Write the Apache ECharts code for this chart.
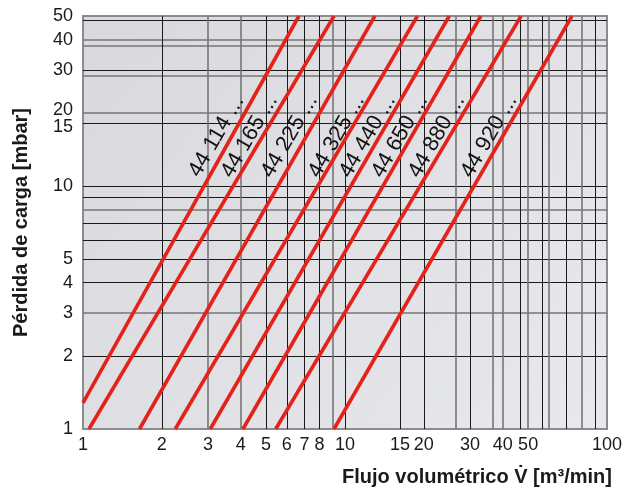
<!DOCTYPE html>
<html>
<head>
<meta charset="utf-8">
<script src="https://cdn.jsdelivr.net/npm/echarts@6/dist/echarts.min.js"></script>
<style>
html,body{margin:0;padding:0;background:#fff;}
#chart{width:629px;height:496px;}
</style>
</head>
<body>
<div id="chart"></div>
<script>
// Model names (one line each)
var models = ['44 114 ...', '44 165 ...', '44 225 ...', '44 325 ...', '44 440 ...', '44 650 ...', '44 880 ...', '44 920 ...'];
// Line start points (flow m3/min, pressure mbar)
var flowLow = [1, 1.054, 1.643, 2.25, 3.06, 4.08, 5.44, 9.08];
var pLow    = [1.28, 1, 1, 1, 1, 1, 1, 1];
// Line end points
var flowHigh = [6.67, 9.08, 13.0, 18.9, 25.0, 33.0, 47.0, 73.5];
var pHigh    = [50, 50, 50, 50, 50, 50, 50, 50];
// Label anchor positions (data space)
var labelFlow = [3.23, 4.32, 6.14, 9.29, 12.2, 16.2, 22.4, 35.5];
var labelP    = [16, 16, 16, 16, 16, 16, 16, 16];

// Axis tick labels
var xLabelVals = [1, 2, 3, 4, 5, 6, 7, 8, 10, 16.2, 20, 30, 40, 50, 100];
var xLabelText = ['1', '2', '3', '4', '5', '6', '7', '8', '10', '15', '20', '30', '40', '50', '100'];
var yLabelVals = [1, 2, 3, 4, 5, 10, 17.5, 20.5, 30, 40, 50];
var yLabelText = ['1', '2', '3', '4', '5', '10', '15', '20', '30', '40', '50'];

// Grid lines
var xGridDark = [2, 5, 6, 7, 8, 10, 16.2, 20, 30, 46.7, 56.5, 70, 90];
var xGridGray = [3, 4, 9, 26.5, 36.5, 40, 50, 60, 80];
var yGridDark = [2, 4, 5, 6, 7, 9, 10, 18.1, 30, 48.2];
var yGridGray = [3, 8, 20, 28.3, 37.7, 40];

function lookup(vals, texts, v) {
  var best = 0, bd = Infinity;
  for (var i = 0; i < vals.length; i++) {
    var d = Math.abs(Math.log(vals[i]) - Math.log(v));
    if (d < bd) { bd = d; best = i; }
  }
  return texts[best];
}

var FONT = 'Liberation Sans';
var chart = echarts.init(document.getElementById('chart'));

var series = models.map(function (m, i) {
  return {
    name: m,
    type: 'line',
    xAxisIndex: 0,
    yAxisIndex: 0,
    data: [[flowLow[i], pLow[i]], [flowHigh[i], pHigh[i]]],
    symbol: 'none',
    silent: true,
    z: 5,
    lineStyle: { color: '#e3231b', width: 3.6 },
    markPoint: {
      silent: true,
      symbol: 'circle',
      symbolSize: 0,
      itemStyle: { opacity: 1, color: 'transparent' },
      label: {
        show: true,
        position: 'inside',
        rotate: 60,
        formatter: m,
        fontFamily: FONT,
        fontSize: 22,
        color: '#141414'
      },
      data: [{ coord: [labelFlow[i], labelP[i]] }]
    }
  };
});

var option = {
  animation: false,
  backgroundColor: '#ffffff',
  grid: {
    left: 83, right: 22, top: 16, bottom: 67,
    show: true,
    borderColor: '#8c8c8c',
    borderWidth: 2,
    backgroundColor: {
      type: 'linear', x: 0, y: 0, x2: 1, y2: 1,
      colorStops: [{ offset: 0, color: '#d9d9dd' }, { offset: 1, color: '#e8e9ed' }]
    }
  },
  xAxis: [{
    type: 'log', logBase: 10, min: 1, max: 100,
    name: 'Flujo volumétrico V\u0307 [m³/min]',
    nameLocation: 'end',
    nameGap: 5,
    nameTextStyle: {
      fontFamily: FONT, fontSize: 20, fontWeight: 'bold', color: '#1a1a1a',
      align: 'right', verticalAlign: 'top', padding: [38, 0, 0, 0]
    },
    axisLine: { show: false },
    axisTick: { show: false, customValues: xGridDark },
    axisLabel: {
      customValues: xLabelVals,
      margin: 7,
      fontFamily: FONT, fontSize: 18, color: '#1a1a1a',
      formatter: function (v) { return lookup(xLabelVals, xLabelText, v); }
    },
    splitLine: { show: true, lineStyle: { color: '#1a1a1a', width: 1 } }
  }, {
    type: 'log', logBase: 10, min: 1, max: 100,
    position: 'top',
    axisLine: { show: false },
    axisTick: { show: false, customValues: xGridGray },
    axisLabel: { show: false },
    splitLine: { show: true, lineStyle: { color: '#767676', width: 1.6 } }
  }],
  yAxis: [{
    type: 'log', logBase: 10, min: 1, max: 50,
    name: 'Pérdida de carga [mbar]',
    nameLocation: 'middle',
    nameGap: 52,
    nameTextStyle: { fontFamily: FONT, fontSize: 20, fontWeight: 'bold', color: '#1a1a1a' },
    axisLine: { show: false },
    axisTick: { show: false, customValues: yGridDark },
    axisLabel: {
      customValues: yLabelVals,
      margin: 10,
      fontFamily: FONT, fontSize: 18, color: '#1a1a1a',
      formatter: function (v) { return lookup(yLabelVals, yLabelText, v); }
    },
    splitLine: { show: true, lineStyle: { color: '#1a1a1a', width: 1 } }
  }, {
    type: 'log', logBase: 10, min: 1, max: 50,
    position: 'right',
    axisLine: { show: false },
    axisTick: { show: false, customValues: yGridGray },
    axisLabel: { show: false },
    splitLine: { show: true, lineStyle: { color: '#767676', width: 1.6 } }
  }],
  series: series
};
chart.setOption(option);
</script>
</body>
</html>
